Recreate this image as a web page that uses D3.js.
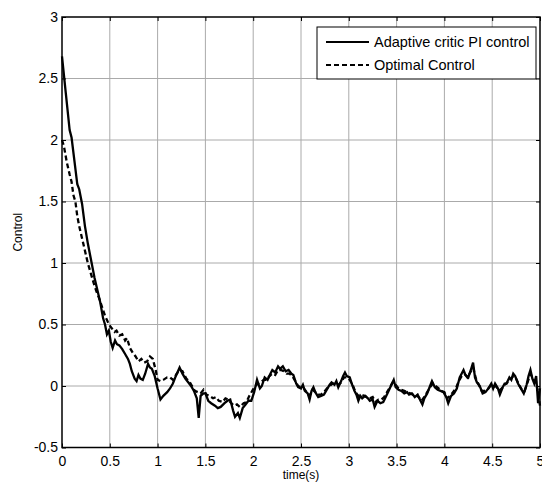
<!DOCTYPE html>
<html lang="en">
<head>
    <meta charset="UTF-8">
    <title>Control</title>
    <script src="https://d3js.org/d3.v7.min.js"></script>
    <style>
        body {
            margin: 0;
            padding: 0;
            background-color: #fff;
            font-family: "Liberation Sans", Arial, sans-serif;
        }
        .tick text {
            font-size: 14px;
            fill: #000;
        }
        .axis-label {
            font-size: 12px;
            fill: #000;
        }
    </style>
</head>
<body>
    <script>
        // time stamps and values
        const solidTime = [0, 0.04, 0.08, 0.1, 0.13, 0.16, 0.18, 0.21, 0.24, 0.27, 0.31, 0.34, 0.37, 0.4, 0.43, 0.45, 0.47, 0.49, 0.51, 0.53,
            0.555, 0.575, 0.6, 0.63, 0.66, 0.69, 0.71, 0.73, 0.76, 0.78, 0.8, 0.82, 0.845, 0.87, 0.9, 0.92, 0.94, 0.97, 1.0, 1.03,
            1.06, 1.1, 1.13, 1.16, 1.19, 1.23, 1.26, 1.29, 1.32, 1.35, 1.38, 1.41, 1.43, 1.45, 1.48, 1.5, 1.53, 1.56, 1.6, 1.63,
            1.66, 1.7, 1.73, 1.76, 1.79, 1.81, 1.84, 1.86, 1.89, 1.92, 1.95, 1.98, 2.01, 2.04, 2.07, 2.09, 2.12, 2.15, 2.18, 2.2,
            2.23, 2.26, 2.28, 2.31, 2.34, 2.37, 2.4, 2.42, 2.45, 2.47, 2.5, 2.52, 2.54, 2.57, 2.59, 2.61, 2.63, 2.65, 2.68, 2.71,
            2.74, 2.77, 2.8, 2.82, 2.85, 2.87, 2.89, 2.92, 2.94, 2.96, 2.98, 3.01, 3.03, 3.06, 3.08, 3.1, 3.12, 3.14, 3.17, 3.2,
            3.22, 3.25, 3.27, 3.3, 3.33, 3.36, 3.38, 3.41, 3.44, 3.47, 3.49, 3.52, 3.55, 3.58, 3.61, 3.63, 3.66, 3.69, 3.72, 3.75,
            3.77, 3.79, 3.82, 3.85, 3.87, 3.9, 3.93, 3.96, 3.99, 4.02, 4.04, 4.07, 4.1, 4.13, 4.16, 4.18, 4.2, 4.22, 4.25, 4.28,
            4.3, 4.32, 4.34, 4.37, 4.4, 4.43, 4.46, 4.49, 4.51, 4.53, 4.56, 4.58, 4.61, 4.63, 4.65, 4.68, 4.7, 4.72, 4.74, 4.77,
            4.8, 4.83, 4.86, 4.88, 4.9, 4.92, 4.94, 4.96, 4.98, 5.0];
        const solidValues = [2.68, 2.38, 2.08, 2.02, 1.83, 1.64, 1.6, 1.48, 1.3, 1.16, 1.0, 0.88, 0.78, 0.68, 0.55, 0.5, 0.42, 0.45, 0.36, 0.31,
            0.37, 0.34, 0.33, 0.3, 0.26, 0.22, 0.18, 0.12, 0.06, 0.04, 0.09, 0.06, 0.05, 0.1, 0.18, 0.15, 0.14, 0.08, -0.02, -0.11,
            -0.08, -0.05, -0.02, 0.02, 0.08, 0.15, 0.1, 0.06, 0.03, 0.0, -0.04, -0.1, -0.26, -0.08, -0.06, -0.06, -0.12, -0.14, -0.16, -0.18,
            -0.17, -0.14, -0.12, -0.11, -0.2, -0.25, -0.22, -0.26, -0.18, -0.15, -0.12, -0.12, -0.05, 0.05, -0.02, 0.0, 0.07, 0.05, 0.1, 0.13,
            0.11, 0.16, 0.14, 0.16, 0.12, 0.13, 0.1, 0.09, 0.02, -0.01, -0.02, 0.01, -0.04, -0.06, -0.11, -0.04, -0.01, -0.05, -0.09, -0.08,
            -0.07, -0.03, 0.01, 0.03, 0.01, 0.04, -0.01, 0.04, 0.08, 0.11, 0.08, 0.07, 0.02, -0.04, -0.07, -0.12, -0.08, -0.1, -0.08, -0.1,
            -0.12, -0.11, -0.17, -0.12, -0.14, -0.13, -0.1, -0.05, 0.0, 0.05, -0.01, -0.03, -0.04, -0.06, -0.05, -0.07, -0.06, -0.09, -0.07, -0.12,
            -0.15, -0.1, -0.06, 0.0, 0.04, -0.01, -0.03, -0.04, -0.05, -0.09, -0.14, -0.08, -0.06, -0.02, 0.07, 0.1, 0.13, 0.09, 0.07, 0.14,
            0.19, 0.07, 0.03, 0.0, -0.06, -0.05, -0.02, 0.02, -0.02, 0.02, -0.02, -0.07, -0.01, 0.02, 0.02, 0.07, 0.05, 0.1, 0.08, 0.02,
            -0.02, -0.06, 0.01, 0.08, 0.13, 0.06, 0.02, 0.08, -0.14, -0.02];

        const dashedTime = [0, 0.02, 0.05, 0.08, 0.1, 0.12, 0.14, 0.16, 0.18, 0.21, 0.24, 0.27, 0.3, 0.33, 0.36, 0.39, 0.42, 0.45, 0.48, 0.5,
            0.52, 0.55, 0.57, 0.6, 0.63, 0.66, 0.68, 0.71, 0.74, 0.77, 0.8, 0.83, 0.86, 0.89, 0.92, 0.95, 0.98, 1.0, 1.03, 1.06,
            1.1, 1.13, 1.16, 1.2, 1.23, 1.26, 1.3, 1.33, 1.36, 1.39, 1.42, 1.45, 1.48, 1.51, 1.54, 1.58, 1.61, 1.64, 1.68, 1.71,
            1.74, 1.77, 1.8, 1.83, 1.86, 1.9, 1.93, 1.96, 1.99, 2.02, 2.05, 2.08, 2.11, 2.14, 2.17, 2.2, 2.23, 2.26, 2.29, 2.32,
            2.35, 2.38, 2.41, 2.44, 2.47, 2.5, 2.53, 2.56, 2.59, 2.62, 2.65, 2.68, 2.71, 2.74, 2.77, 2.8, 2.83, 2.86, 2.89, 2.92,
            2.95, 2.98, 3.01, 3.04, 3.07, 3.1, 3.13, 3.16, 3.19, 3.22, 3.25, 3.28, 3.31, 3.34, 3.37, 3.4, 3.43, 3.46, 3.49, 3.52,
            3.55, 3.58, 3.61, 3.64, 3.67, 3.7, 3.73, 3.76, 3.79, 3.82, 3.85, 3.88, 3.91, 3.94, 3.97, 4.0, 4.03, 4.06, 4.09, 4.12,
            4.15, 4.18, 4.21, 4.24, 4.27, 4.3, 4.33, 4.36, 4.39, 4.42, 4.45, 4.48, 4.51, 4.54, 4.57, 4.6, 4.63, 4.66, 4.69, 4.72,
            4.75, 4.78, 4.81, 4.84, 4.87, 4.9, 4.93, 4.96, 4.98, 5.0];
        const dashedValues = [2.0, 1.95, 1.82, 1.72, 1.66, 1.55, 1.5, 1.38, 1.3, 1.2, 1.1, 1.0, 0.92, 0.84, 0.77, 0.71, 0.64, 0.57, 0.52, 0.49,
            0.47, 0.44, 0.45, 0.41, 0.42, 0.37, 0.39, 0.31, 0.27, 0.24, 0.2, 0.22, 0.19, 0.2, 0.24, 0.22, 0.13, 0.05, 0.04, 0.05,
            0.07, 0.07, 0.05, 0.1, 0.13, 0.12, 0.06, 0.04, 0.0, -0.04, -0.05, -0.06, -0.03, -0.07, -0.08, -0.1, -0.09, -0.12, -0.13, -0.1,
            -0.11, -0.14, -0.16, -0.15, -0.17, -0.14, -0.13, -0.08, -0.04, 0.0, 0.02, 0.03, 0.05, 0.05, 0.08, 0.1, 0.09, 0.13, 0.13, 0.12,
            0.1, 0.1, 0.08, 0.04, 0.0, -0.01, -0.02, -0.05, -0.08, -0.03, -0.05, -0.07, -0.07, -0.05, -0.02, 0.0, 0.02, 0.02, 0.01, 0.03,
            0.07, 0.07, 0.05, 0.01, -0.05, -0.08, -0.07, -0.08, -0.09, -0.1, -0.09, -0.13, -0.11, -0.11, -0.09, -0.05, -0.01, 0.03, 0.01, -0.02,
            -0.03, -0.04, -0.05, -0.06, -0.07, -0.07, -0.09, -0.12, -0.09, -0.05, -0.01, 0.02, 0.0, -0.02, -0.04, -0.05, -0.1, -0.08, -0.05, -0.02,
            0.04, 0.08, 0.1, 0.07, 0.11, 0.15, 0.06, 0.01, -0.04, -0.04, -0.03, 0.0, -0.01, 0.0, -0.04, -0.02, 0.01, 0.03, 0.05, 0.08,
            0.06, 0.01, -0.03, -0.04, 0.03, 0.1, 0.05, 0.03, -0.06, -0.16];

        const xTicks = [0, 0.5, 1, 1.5, 2, 2.5, 3, 3.5, 4, 4.5, 5];
        const yTicks = [-0.5, 0, 0.5, 1, 1.5, 2, 2.5, 3];
        const seriesNames = ["Adaptive critic PI control", "Optimal Control"];

        const W = 542, H = 495;
        const margin = { top: 17, right: 2, bottom: 47.5, left: 62 };
        const width = W - margin.left - margin.right;
        const height = H - margin.top - margin.bottom;

        const svg = d3.select("body").append("svg")
            .attr("width", W)
            .attr("height", H)
            .style("display", "block");

        const g = svg.append("g")
            .attr("transform", `translate(${margin.left},${margin.top})`);

        const x = d3.scaleLinear().domain([0, 5]).range([0, width]);
        const y = d3.scaleLinear().domain([-0.5, 3]).range([height, 0]);

        // grid
        g.append("g").selectAll("line")
            .data(xTicks.slice(1, -1))
            .join("line")
            .attr("x1", d => x(d)).attr("x2", d => x(d))
            .attr("y1", 0).attr("y2", height)
            .attr("stroke", "#aaa").attr("stroke-width", 1);
        g.append("g").selectAll("line")
            .data(yTicks.slice(1, -1))
            .join("line")
            .attr("x1", 0).attr("x2", width)
            .attr("y1", d => y(d)).attr("y2", d => y(d))
            .attr("stroke", "#aaa").attr("stroke-width", 1);

        // series
        const line = d3.line().x(d => x(d[0])).y(d => y(d[1]));
        const solidData = solidTime.map((t, i) => [t, solidValues[i]]);
        const dashedData = dashedTime.map((t, i) => [t, dashedValues[i]]);

        g.append("path")
            .datum(dashedData)
            .attr("d", line)
            .attr("fill", "none")
            .attr("stroke", "#000")
            .attr("stroke-width", 2.3)
            .attr("stroke-dasharray", "5,3");

        g.append("path")
            .datum(solidData)
            .attr("d", line)
            .attr("fill", "none")
            .attr("stroke", "#000")
            .attr("stroke-width", 2.3);

        // axes (ticks inside, like matlab)
        const fmt = d => String(d);
        g.append("g")
            .attr("transform", `translate(0,${height})`)
            .call(d3.axisBottom(x).tickValues(xTicks).tickFormat(fmt).tickSize(-4).tickPadding(9))
            .call(a => a.select(".domain").remove());
        g.append("g")
            .call(d3.axisTop(x).tickValues(xTicks).tickFormat("").tickSize(-4))
            .call(a => a.select(".domain").remove());
        g.append("g")
            .call(d3.axisLeft(y).tickValues(yTicks).tickFormat(fmt).tickSize(-4).tickPadding(4))
            .call(a => a.select(".domain").remove());
        g.append("g")
            .attr("transform", `translate(${width},0)`)
            .call(d3.axisRight(y).tickValues(yTicks).tickFormat("").tickSize(-4))
            .call(a => a.select(".domain").remove());

        g.selectAll(".tick text").attr("font-family", "'Liberation Sans', Arial, sans-serif");

        g.append("rect")
            .attr("width", width)
            .attr("height", height)
            .attr("fill", "none")
            .attr("stroke", "#000")
            .attr("stroke-width", 1.5);

        // axis labels
        svg.append("text")
            .attr("class", "axis-label")
            .attr("x", margin.left + width / 2)
            .attr("y", 479)
            .attr("text-anchor", "middle")
            .text("time(s)");
        svg.append("text")
            .attr("class", "axis-label")
            .attr("transform", `translate(22,${margin.top + height / 2}) rotate(-90)`)
            .attr("text-anchor", "middle")
            .text("Control");

        // legend
        const legend = svg.append("g").attr("transform", "translate(317,27)");
        legend.append("rect")
            .attr("width", 219)
            .attr("height", 52)
            .attr("fill", "#fff")
            .attr("stroke", "#000")
            .attr("stroke-width", 1);
        const items = legend.selectAll(".item")
            .data(seriesNames)
            .join("g")
            .attr("class", "item")
            .attr("transform", (d, i) => `translate(0,${15 + i * 23})`);
        items.append("line")
            .attr("x1", 9).attr("x2", 52)
            .attr("stroke", "#000")
            .attr("stroke-width", 2)
            .attr("stroke-dasharray", (d, i) => i === 0 ? null : "5,3");
        items.append("text")
            .attr("x", 57)
            .attr("dy", "0.35em")
            .attr("font-size", 14.5)
            .text(d => d);
    </script>
</body>
</html>
